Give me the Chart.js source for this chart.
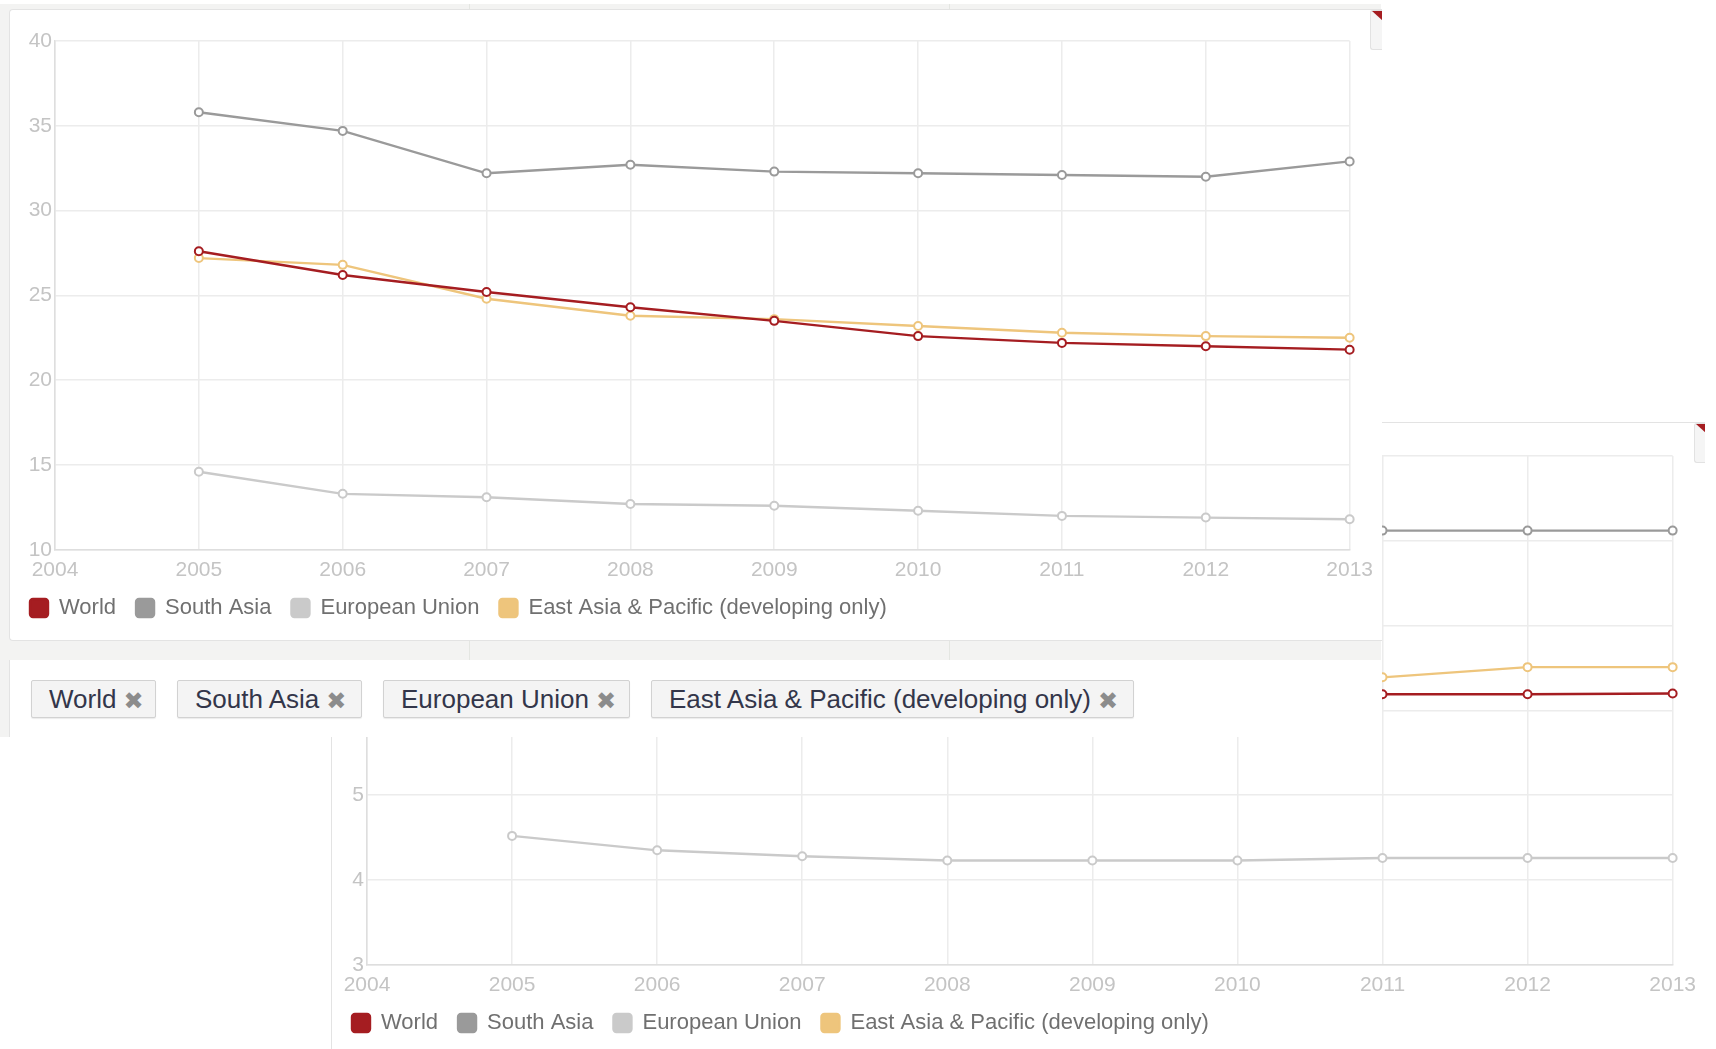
<!DOCTYPE html>
<html>
<head>
<meta charset="utf-8">
<title>Indicator comparison</title>
<script src="https://cdn.jsdelivr.net/npm/chart.js@4.4.1/dist/chart.umd.min.js"></script>
<style>
  html, body { margin: 0; padding: 0; }
  body {
    width: 1716px; height: 1049px; overflow: hidden; position: relative;
    background: #fff; font-family: "Liberation Sans", Arial, sans-serif;
  }
  .panel { position: absolute; background: #fff; overflow: hidden; }
  #panel2 { left: 331px; top: 422px; width: 1373px; height: 640px;
    border-left: 1px solid #e3e3e3; border-top: 1px solid #e3e3e3; z-index: 0; }
  #backdrop { position: absolute; left: 0; top: 4px; width: 1381px; height: 733px;
    background: #f3f3f2; z-index: 1; }
  #backdrop .divider { position: absolute; top: 0; bottom: 0; width: 1px; background: #e4e6e2; }
  #card1 { left: 9px; top: 9px; width: 1372px; height: 630px; z-index: 2;
    border: 1px solid #e3e3e3; border-right: none; border-radius: 4px 0 0 4px; }
  #tags { left: 9px; top: 660px; width: 1372px; height: 77px; z-index: 2;
    border-left: 1px solid #e3e3e3; }
  canvas { position: absolute; left: 0; top: 0; }
  #chart2 { top: 2px; }
  .corner { position: absolute; width: 12px; height: 38px; background: #f5f5f5;
    border: 1px solid #e2e2e2; border-right: none; border-radius: 3px 0 0 3px; }
  .corner::after { content: ""; position: absolute; right: 0; top: 0;
    border-top: 10px solid #a51d21; border-left: 11px solid transparent; }
  .tag { position: absolute; top: 20px; height: 38px; box-sizing: border-box;
    background: #f4f4f4; border: 1px solid #d2d2d2; border-radius: 2px;
    box-shadow: 0 1px 1px rgba(0,0,0,0.08);
    font-size: 26px; line-height: 36px; color: #33364a; padding-left: 17px; white-space: nowrap; }
  .tag .x { font-family: "DejaVu Sans", sans-serif; font-size: 24px; color: #8c8c8c;
    margin-left: 7px; position: relative; top: 1px; }
</style>
</head>
<body>

<div id="panel2" class="panel">
  <canvas id="chart2" width="1372" height="629"></canvas>
  <div class="corner" style="left:1362px; top:0;"></div>
</div>

<div id="backdrop">
  <div class="divider" style="left:469px"></div>
  <div class="divider" style="left:949px"></div>
</div>

<div id="card1" class="panel">
  <canvas id="chart1" width="1371" height="629"></canvas>
  <div class="corner" style="left:1360px; top:0;"></div>
</div>

<div id="tags" class="panel">
  <div class="tag" style="left:21px; width:125px;">World<span class="x">✖</span></div>
  <div class="tag" style="left:167px; width:185px;">South Asia<span class="x">✖</span></div>
  <div class="tag" style="left:373px; width:247px;">European Union<span class="x">✖</span></div>
  <div class="tag" style="left:641px; width:483px;">East Asia &amp; Pacific (developing only)<span class="x">✖</span></div>
</div>

<script>
// years on the x axis
const years = ['2004', '2005', '2006', '2007', '2008', '2009', '2010', '2011', '2012', '2013'];
const seriesNames = ['World', 'South Asia', 'European Union', 'East Asia & Pacific (developing only)'];
const seriesColors = ['#a51d21', '#9a9a9a', '#cacaca', '#eec57c'];

// upper chart
const world1 = [null, 27.6, 26.2, 25.2, 24.3, 23.5, 22.6, 22.2, 22.0, 21.8];
const southAsia1 = [null, 35.8, 34.7, 32.2, 32.7, 32.3, 32.2, 32.1, 32.0, 32.9];
const eu1 = [null, 14.6, 13.3, 13.1, 12.7, 12.6, 12.3, 12.0, 11.9, 11.8];
const eastAsia1 = [null, 27.2, 26.8, 24.8, 23.8, 23.6, 23.2, 22.8, 22.6, 22.5];
const yTicks1 = [10, 15, 20, 25, 30, 35, 40];

// lower chart (earlier years of the other regions sit under the cards)
const world2 = [null, null, null, null, null, null, null, 6.19, 6.19, 6.2];
const southAsia2 = [null, null, null, null, null, null, null, 8.12, 8.12, 8.12];
const eu2 = [null, 4.52, 4.35, 4.28, 4.23, 4.23, 4.23, 4.26, 4.26, 4.26];
const eastAsia2 = [null, null, null, null, null, null, null, 6.39, 6.51, 6.51];
const yTicks2 = [3, 4, 5, 6, 7, 8, 9];

Chart.defaults.font.family = '"Liberation Sans", Arial, sans-serif';
Chart.defaults.animation = false;

function makeDatasets(lists) {
    return lists.map((values, i) => ({
        label: seriesNames[i],
        data: values,
        borderColor: seriesColors[i],
        backgroundColor: seriesColors[i],
        borderWidth: 2.4,
        pointRadius: 4,
        pointBorderWidth: 2,
        pointBackgroundColor: '#fff',
        pointBorderColor: seriesColors[i],
        tension: 0,
        fill: false
    }));
}

function makeOptions(ticks, axisWidth, rightPad) {
    return {
        responsive: false,
        layout: { padding: { left: 0, right: rightPad, top: 31, bottom: 10 } },
        scales: {
            x: {
                type: 'category',
                offset: false,
                // labels hang into the legend's top padding
                afterFit: (axis) => { axis.height -= 14; },
                grid: { color: '#ececec', lineWidth: 1.5, drawTicks: false },
                border: { color: '#dedede', width: 1.5 },
                ticks: { color: '#c4c4c4', font: { size: 21 }, padding: 8, maxRotation: 0, autoSkip: false }
            },
            y: {
                min: ticks[0],
                max: ticks[ticks.length - 1],
                afterBuildTicks: (axis) => { axis.ticks = ticks.map(v => ({ value: v })); },
                afterFit: (axis) => { axis.width = axisWidth; },
                grid: { color: '#ececec', lineWidth: 1.5, drawTicks: false },
                border: { color: '#dedede', width: 1.5 },
                ticks: { color: '#c4c4c4', font: { size: 21 }, padding: 3 }
            }
        },
        plugins: {
            tooltip: { enabled: false },
            legend: {
                position: 'bottom',
                align: 'start',
                labels: {
                    color: '#707070',
                    font: { size: 22 },
                    boxWidth: 18,
                    boxHeight: 18,
                    padding: 20,
                    useBorderRadius: true,
                    borderRadius: 3
                }
            }
        }
    };
}

new Chart(document.getElementById('chart1'), {
    type: 'line',
    data: { labels: years, datasets: makeDatasets([world1, southAsia1, eu1, eastAsia1]) },
    options: makeOptions(yTicks1, 45, 29)
});

new Chart(document.getElementById('chart2'), {
    type: 'line',
    data: { labels: years, datasets: makeDatasets([world2, southAsia2, eu2, eastAsia2]) },
    options: makeOptions(yTicks2, 35, 28)
});
</script>
</body>
</html>
